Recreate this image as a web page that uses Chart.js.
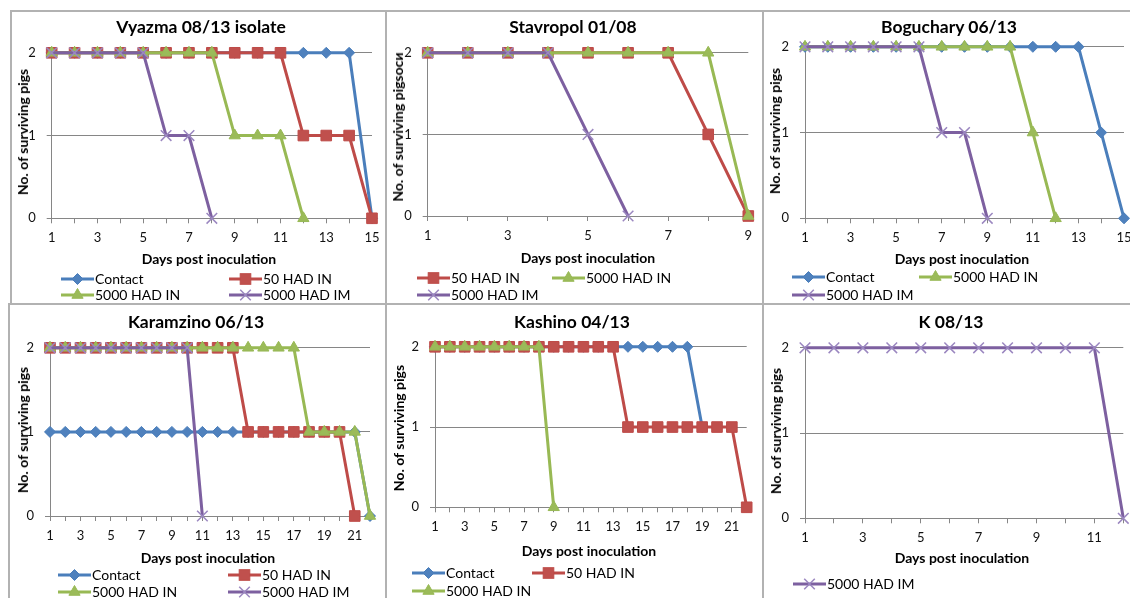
<!DOCTYPE html>
<html><head><meta charset="utf-8">
<script src="https://cdn.jsdelivr.net/npm/chart.js@4"></script>
<style>
body{margin:0;background:#fff;width:1130px;height:598px;overflow:hidden;position:relative;font-family:Lato,"Open Sans",sans-serif}
canvas{position:absolute}
.ln{position:absolute;background:#b2b2b2}
.t{position:absolute;white-space:nowrap;color:#000;line-height:1;transform:translate(-50%,-50%)}
.title{font-weight:bold;font-size:17.5px}
.axt{font-weight:bold;font-size:14px}
.yt{transform:translate(-50%,-50%) rotate(-90deg)}
.lg{position:absolute;white-space:nowrap;font-size:14px;line-height:1;transform:translateY(-50%);color:#000}
svg{position:absolute;overflow:visible}
</style>
</head><body>
<div class="ln" style="left:11px;top:10px;width:1119px;height:2px"></div>
<div class="ln" style="left:10px;top:10px;width:2px;height:294px"></div>
<div class="ln" style="left:8px;top:303px;width:1122px;height:2px"></div>
<div class="ln" style="left:8px;top:303px;width:2px;height:295px"></div>
<div class="ln" style="left:385px;top:10px;width:2px;height:588px"></div>
<div class="ln" style="left:762px;top:10px;width:2px;height:588px"></div>
<script>
// ---------- data ----------
const days15 = ['1','2','3','4','5','6','7','8','9','10','11','12','13','14','15'];
const days9  = ['1','2','3','4','5','6','7','8','9'];
const days22 = ['1','2','3','4','5','6','7','8','9','10','11','12','13','14','15','16','17','18','19','20','21','22'];
const days12 = ['1','2','3','4','5','6','7','8','9','10','11','12'];
const yTicks = [0, 1, 2];

const vyazmaContact = [2,2,2,2,2,2,2,2,2,2,2,2,2,2,0];
const vyazma50IN    = [2,2,2,2,2,2,2,2,2,2,2,1,1,1,0];
const vyazma5000IN  = [2,2,2,2,2,2,2,2,1,1,1,0,null,null,null];
const vyazma5000IM  = [2,2,2,2,2,1,1,0,null,null,null,null,null,null,null];

const stav50IN   = [2,2,2,2,2,2,2,1,0];
const stav5000IN = [2,2,2,2,2,2,2,2,0];
const stav5000IM = [2,2,2,2,1,0,null,null,null];

const bogContact = [2,2,2,2,2,2,2,2,2,2,2,2,2,1,0];
const bog5000IN  = [2,2,2,2,2,2,2,2,2,2,1,0,null,null,null];
const bog5000IM  = [2,2,2,2,2,2,1,1,0,null,null,null,null,null,null];

const karContact = [1,1,1,1,1,1,1,1,1,1,1,1,1,1,1,1,1,1,1,1,1,0];
const kar50IN    = [2,2,2,2,2,2,2,2,2,2,2,2,2,1,1,1,1,1,1,1,0,null];
const kar5000IN  = [2,2,2,2,2,2,2,2,2,2,2,2,2,2,2,2,2,1,1,1,1,0];
const kar5000IM  = [2,2,2,2,2,2,2,2,2,2,0,null,null,null,null,null,null,null,null,null,null,null];

const kasContact = [2,2,2,2,2,2,2,2,2,2,2,2,2,2,2,2,2,2,1,null,null,null];
const kas50IN    = [2,2,2,2,2,2,2,2,2,2,2,2,2,1,1,1,1,1,1,1,1,0];
const kas5000IN  = [2,2,2,2,2,2,2,2,0,null,null,null,null,null,null,null,null,null,null,null,null,null];

const k5000IM = [2,2,2,2,2,2,2,2,2,2,2,0];

// ---------- styles ----------
const styles = {
  'Contact':     {line:'#4A7EBB', fill:'#4F81BD', shape:'rectRot', r:5.5},
  '50 HAD IN':   {line:'#BE4B48', fill:'#C0504D', shape:'rect', r:7.5},
  '5000 HAD IN': {line:'#98B954', fill:'#9BBB59', shape:'triangle', r:6.5},
  '5000 HAD IM': {line:'#7D60A0', fill:'#9B87C0', shape:'crossRot', r:7.5}
};
const GRID = '#868686';

const panels = [
  {title:'Vyazma 08/13 isolate', labels:days15,
   series:[['Contact',vyazmaContact],['50 HAD IN',vyazma50IN],['5000 HAD IN',vyazma5000IN],['5000 HAD IM',vyazma5000IM]],
   box:{l:51.7,r:372,t:48.3,b:218.3}, tp:[201,27], xt:[209,259], yt:[23,132], ylab:'No. of surviving pigs',
   lcols:[61,229], lrows:[279,295]},
  {title:'Stavropol 01/08', labels:days9,
   series:[['50 HAD IN',stav50IN],['5000 HAD IN',stav5000IN],['5000 HAD IM',stav5000IM]],
   box:{l:427.7,r:748.3,t:48.3,b:216}, tp:[573,27], xt:[588,258], yt:[398,127], ylab:'No. of surviving pigsocи',
   lcols:[417,552], lrows:[278,295]},
  {title:'Boguchary 06/13', labels:days15,
   series:[['Contact',bogContact],['5000 HAD IN',bog5000IN],['5000 HAD IM',bog5000IM]],
   box:{l:805,r:1124,t:42.3,b:218.3}, tp:[949,27], xt:[962,259], yt:[775,131], ylab:'No. of surviving pigs',
   lcols:[792,919], lrows:[277,295]},
  {title:'Karamzino 06/13', labels:days22,
   series:[['Contact',karContact],['50 HAD IN',kar50IN],['5000 HAD IN',kar5000IN],['5000 HAD IM',kar5000IM]],
   box:{l:50,r:370,t:343.3,b:516}, tp:[196,322], xt:[208,558], yt:[23,430], ylab:'No. of surviving pigs',
   lcols:[58,228], lrows:[575,592]},
  {title:'Kashino 04/13', labels:days22,
   series:[['Contact',kasContact],['50 HAD IN',kas50IN],['5000 HAD IN',kas5000IN]],
   box:{l:435,r:746.7,t:342.7,b:507.3}, tp:[572,322], xt:[589,551], yt:[399,428], ylab:'No. of surviving pigs',
   lcols:[412,532], lrows:[573,591]},
  {title:'K 08/13', labels:days12,
   series:[['5000 HAD IM',k5000IM]],
   box:{l:805,r:1123.3,t:343.3,b:518.3}, tp:[951,322], xt:[962,558], yt:[776,431], ylab:'No. of surviving pigs',
   lcols:[793], lrows:[584]}
];

function addText(cls, txt, x, y){
  const d = document.createElement('div');
  d.className = 't ' + cls;
  d.textContent = txt;
  d.style.left = x + 'px'; d.style.top = y + 'px';
  document.body.appendChild(d);
}

function markerSVG(st){
  const c = 16.5; // center in 33px line
  let m = '';
  if (st.shape === 'rectRot') m = `<polygon points="${c},-5.5 ${c+5.5},0 ${c},5.5 ${c-5.5},0" fill="${st.fill}" stroke="${st.line}" stroke-width="1"/>`;
  else if (st.shape === 'rect') m = `<rect x="${c-5.3}" y="-5.3" width="10.6" height="10.6" fill="${st.fill}" stroke="${st.line}" stroke-width="1"/>`;
  else if (st.shape === 'triangle') m = `<polygon points="${c},-6.5 ${c+5.6},3.25 ${c-5.6},3.25" fill="${st.fill}" stroke="${st.line}" stroke-width="1"/>`;
  else m = `<line x1="${c-5.3}" y1="-5.3" x2="${c+5.3}" y2="5.3" stroke="${st.fill}" stroke-width="1.5"/><line x1="${c-5.3}" y1="5.3" x2="${c+5.3}" y2="-5.3" stroke="${st.fill}" stroke-width="1.5"/>`;
  return `<line x1="0" y1="0" x2="33" y2="0" stroke="${st.line}" stroke-width="3"/>` + m;
}

panels.forEach(p => {
  const {l, r, t, b} = p.box;
  const cl = Math.floor(l) - 45, ct = Math.floor(t) - 14;
  const cw = Math.ceil(r) - cl + 16, ch = Math.ceil(b) - ct + 36;
  const yW = l - cl, padTop = t - ct, padRight = (cl + cw) - r, xH = (ct + ch) - b;
  const cv = document.createElement('canvas');
  cv.width = cw; cv.height = ch;
  cv.style.left = cl + 'px'; cv.style.top = ct + 'px';
  cv.style.width = cw + 'px'; cv.style.height = ch + 'px';
  document.body.appendChild(cv);
  const n = p.series.length;
  new Chart(cv, {
    type: 'line',
    data: {
      labels: p.labels,
      datasets: p.series.map(([name, vals], i) => {
        const st = styles[name];
        return {
          label: name, data: vals, order: n - i,
          borderColor: st.line, borderWidth: 3, tension: 0,
          pointStyle: st.shape, pointRadius: st.r, pointHoverRadius: st.r,
          pointBackgroundColor: st.fill,
          pointBorderColor: st.shape === 'crossRot' ? st.fill : st.line,
          pointBorderWidth: st.shape === 'crossRot' ? 1.5 : 1,
          clip: false, spanGaps: false
        };
      })
    },
    options: {
      responsive: false, animation: false,
      layout: {padding: {left: 0, top: padTop, right: padRight, bottom: 0}},
      plugins: {legend: {display: false}, tooltip: {enabled: false}, title: {display: false}},
      events: [],
      scales: {
        x: {
          type: 'category', offset: false,
          afterFit: s => { s.height = xH; },
          grid: {display: true, drawOnChartArea: false, drawTicks: true, tickLength: 5, color: GRID, lineWidth: 1},
          border: {display: true, color: GRID, width: 1},
          ticks: {autoSkip: false, maxRotation: 0, padding: 7, color: '#111',
                  font: {family: 'Lato', size: 13},
                  callback: function(v, idx){ return idx % 2 === 0 ? this.getLabelForValue(v) : ''; }}
        },
        y: {
          min: 0, max: 2,
          afterFit: s => { s.width = yW; },
          afterBuildTicks: s => { s.ticks = yTicks.map(v => ({value: v})); },
          grid: {color: GRID, lineWidth: 1, drawTicks: true, tickLength: 5},
          border: {display: true, color: GRID, width: 1},
          ticks: {padding: 11, color: '#111', font: {family: 'Lato', size: 13}}
        }
      }
    }
  });

  addText('title', p.title, p.tp[0], p.tp[1]);
  addText('axt', 'Days post inoculation', p.xt[0], p.xt[1]);
  addText('axt yt', p.ylab, p.yt[0], p.yt[1]);

  p.series.forEach(([name], i) => {
    const st = styles[name];
    const x = p.lcols[i % p.lcols.length];
    const y = p.lrows[Math.floor(i / p.lcols.length)];
    const svg = document.createElementNS('http://www.w3.org/2000/svg', 'svg');
    svg.setAttribute('width', '33'); svg.setAttribute('height', '1');
    svg.style.left = x + 'px'; svg.style.top = y + 'px';
    svg.innerHTML = markerSVG(st);
    document.body.appendChild(svg);
    const d = document.createElement('div');
    d.className = 'lg'; d.textContent = name;
    d.style.left = (x + 34) + 'px'; d.style.top = y + 'px';
    document.body.appendChild(d);
  });
});
</script>
</body></html>
